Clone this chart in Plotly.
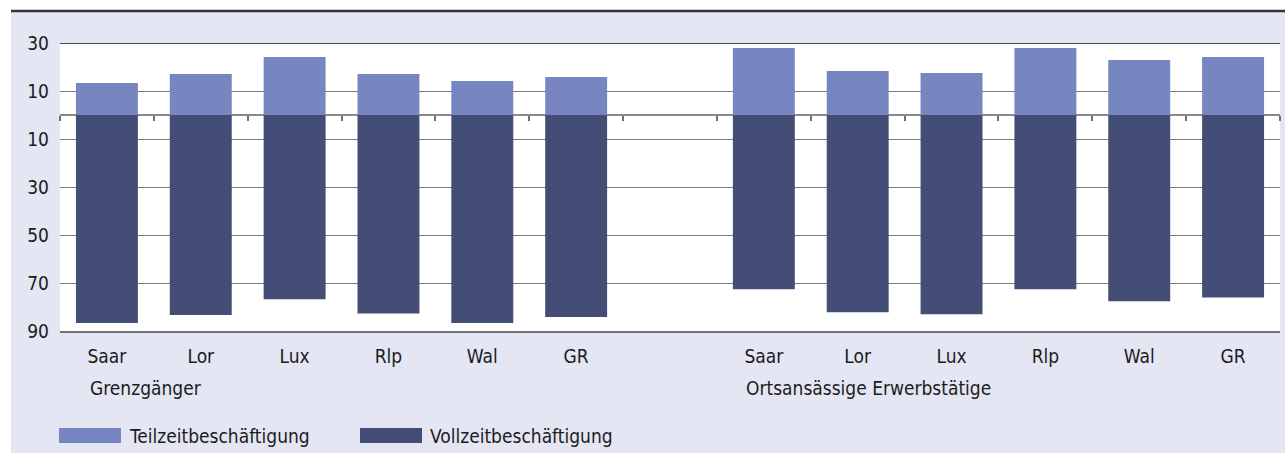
import plotly.graph_objects as go

# ---- data ----
regions = ["Saar", "Lor", "Lux", "Rlp", "Wal", "GR"]
groups = ["Grenzgänger", "Ortsansässige Erwerbstätige"]
teilzeit_grenz = [13.3, 17.1, 24.2, 17.1, 14.2, 15.8]
vollzeit_grenz = [86.7, 83.3, 76.8, 82.7, 86.7, 84.2]
teilzeit_orts = [27.9, 18.3, 17.5, 27.9, 22.9, 24.2]
vollzeit_orts = [72.6, 82.2, 83.0, 72.6, 77.6, 76.0]
series_names = ["Teilzeitbeschäftigung", "Vollzeitbeschäftigung"]
ytick_vals = [30, 10, -10, -30, -50, -70, -90]
ytick_text = ["30", "10", "10", "30", "50", "70", "90"]

# positions: 6 bars, one empty slot, 6 bars
pos_grenz = list(range(0, 6))
pos_orts = list(range(7, 13))
xpos = pos_grenz + pos_orts
teil = teilzeit_grenz + teilzeit_orts
voll = [-v for v in vollzeit_grenz + vollzeit_orts]
labels = regions + regions

LIGHT = "#7786C1"
DARK = "#434D75"
BG = "#E4E6F4"
FONT = "DejaVu Sans Condensed, Roboto, sans-serif"
FS = 19
TXT = "#1c1c1c"

fig = go.Figure()
fig.add_trace(go.Bar(x=xpos, y=teil, name=series_names[0], marker=dict(color=LIGHT, line_width=0),
                     showlegend=False))
fig.add_trace(go.Bar(x=xpos, y=voll, name=series_names[1], marker=dict(color=DARK, line_width=0),
                     showlegend=False))
# helper trace for the zero-line axis
fig.add_trace(go.Scatter(x=[None], y=[None], xaxis="x2", yaxis="y", showlegend=False, hoverinfo="skip"))

W, H = 1285, 453
ml, mr, mt, mb = 60, 5, 43, 122
pw, ph = W - ml - mr, H - mt - mb

def px_x(p):
    return (p - ml) / pw

def px_y(p):
    return (H - mb - p) / ph

fig.update_layout(
    width=W, height=H,
    margin=dict(l=ml, r=mr, t=mt, b=mb),
    paper_bgcolor=BG,
    plot_bgcolor="white",
    barmode="relative",
    bargap=0.34,
    font=dict(family=FONT, size=FS, color=TXT),
    xaxis=dict(range=[-0.5, 12.5], tickvals=xpos, ticktext=labels, showgrid=False, zeroline=False,
               showline=True, linecolor="#707070", linewidth=1.5, ticks="",
               ticklabelstandoff=7,
               tickfont=dict(family=FONT, size=FS, color=TXT)),
    xaxis2=dict(range=[-0.5, 12.5], overlaying="x", anchor="free", position=0.75, side="bottom",
                showline=True, linecolor="#8a8a8a", linewidth=1.5, ticks="outside", ticklen=5,
                tickcolor="#707070", tickwidth=1.5, layer="below traces",
                tickvals=[i - 0.5 for i in range(14)], showticklabels=False, showgrid=False,
                zeroline=False),
    yaxis=dict(range=[-90, 30], tickvals=ytick_vals, ticktext=ytick_text, showgrid=True,
               gridcolor="#7a7a7a", gridwidth=1.2, zeroline=False, ticks="",
               ticklabelstandoff=10, tickfont=dict(family=FONT, size=FS, color=TXT)),
)

shapes = [
    # white margins outside the lavender panel
    dict(type="rect", xref="paper", yref="paper", x0=px_x(0), x1=px_x(W + 5), y0=px_y(0) + 0.01, y1=px_y(10),
         fillcolor="white", line_width=0, layer="above"),
    dict(type="rect", xref="paper", yref="paper", x0=px_x(-5), x1=px_x(11), y0=px_y(H + 5), y1=px_y(0) + 0.01,
         fillcolor="white", line_width=0, layer="above"),
    # dark rule at the top of the panel
    dict(type="line", xref="paper", yref="paper", x0=px_x(11), x1=px_x(W + 5), y0=px_y(11), y1=px_y(11),
         line=dict(color="#333333", width=2.5), layer="above"),
    # darker top frame line of the plot area
    dict(type="line", xref="paper", yref="y", x0=0, x1=1, y0=30, y1=30,
         line=dict(color="#4a4a4a", width=2), layer="above"),
    # legend swatches
    dict(type="rect", xref="paper", yref="paper", x0=px_x(59), x1=px_x(121), y0=px_y(443), y1=px_y(428),
         fillcolor=LIGHT, line_width=0),
    dict(type="rect", xref="paper", yref="paper", x0=px_x(360), x1=px_x(422), y0=px_y(443), y1=px_y(428),
         fillcolor=DARK, line_width=0),
]
fig.update_layout(shapes=shapes)

annotations = [
    dict(text=groups[0], xref="x", yref="paper", x=pos_grenz[0] - 0.2, y=px_y(388), xanchor="left",
         yanchor="middle", showarrow=False, font=dict(family=FONT, size=FS, color=TXT)),
    dict(text=groups[1], xref="x", yref="paper", x=pos_orts[0] - 0.21, y=px_y(388), xanchor="left",
         yanchor="middle", showarrow=False, font=dict(family=FONT, size=FS, color=TXT)),
    dict(text=series_names[0], xref="paper", yref="paper", x=px_x(127), y=px_y(436), xanchor="left",
         yanchor="middle", showarrow=False, font=dict(family=FONT, size=FS, color=TXT)),
    dict(text=series_names[1], xref="paper", yref="paper", x=px_x(428), y=px_y(436), xanchor="left",
         yanchor="middle", showarrow=False, font=dict(family=FONT, size=FS, color=TXT)),
]
fig.update_layout(annotations=annotations)

fig.write_html("out.html", config={"displayModeBar": False},
               post_script="document.body.style.margin='0';document.body.style.overflow='hidden';")
